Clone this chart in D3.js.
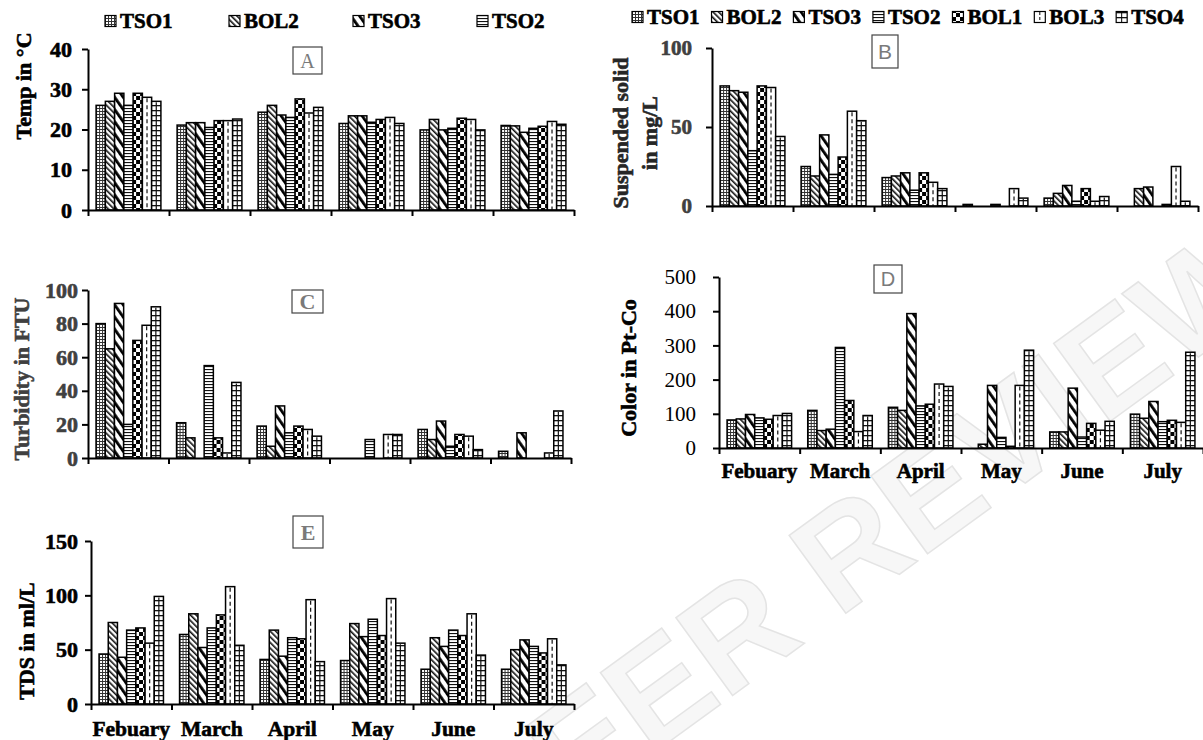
<!DOCTYPE html>
<html>
<head>
<meta charset="utf-8">
<script src="https://cdn.jsdelivr.net/npm/d3@7"></script>
<style>
body { margin: 0; background: #fff; }
svg { display: block; }
.serif { font-family: "Liberation Serif", "Times New Roman", serif; }
.sans { font-family: "Liberation Sans", Arial, sans-serif; }
</style>
</head>
<body>
<div id="chart"></div>
<script>
// categories
const months = ["Febuary", "March", "April", "May", "June", "July"];
const series = ["TSO1", "BOL2", "TSO3", "TSO2", "BOL1", "BOL3", "TSO4"];

// values per month, in series order
const tempValues = [
    [26, 27, 29, 26, 29, 28, 27],
    [21.1, 21.7, 21.7, 20.5, 22.2, 22.2, 22.6],
    [24.3, 26, 23.6, 23, 27.6, 24.1, 25.5],
    [21.5, 23.4, 23.4, 21.8, 22.5, 23, 21.5],
    [19.9, 22.5, 19.9, 20.3, 22.8, 22.5, 19.9],
    [21, 20.9, 19.3, 20.3, 20.8, 22, 21.3]
];
const solidValues = [
    [76, 73, 72, 35, 76, 75, 44],
    [25, 19, 45, 20, 31, 60, 54],
    [18, 19, 21, 10, 21, 15, 11],
    [1, 0, 0, 1, 0, 11, 5],
    [5, 8, 13, 3, 11, 3, 6],
    [0, 11, 12, 0, 1, 25, 3]
];
const turbidityValues = [
    [80, 65, 92, 20, 70, 79, 90],
    [21, 12, 0, 55, 12, 3, 45],
    [19, 7, 31, 15, 19, 17, 13],
    [0, 0, 0, 11, 0, 14, 14],
    [17, 11, 22, 7, 14, 13, 5],
    [4, 0, 15, 0, 0, 3, 28]
];
const colorValues = [
    [82, 85, 98, 88, 84, 95, 101],
    [110, 51, 55, 294, 139, 48, 95],
    [119, 110, 393, 123, 128, 187, 180],
    [0, 11, 183, 31, 5, 183, 286],
    [47, 47, 175, 32, 72, 52, 78],
    [99, 87, 136, 77, 81, 75, 280]
];
const tdsValues = [
    [46, 75, 43, 68, 70, 56, 99],
    [64, 83, 52, 70, 82, 108, 54],
    [41, 68, 44, 61, 60, 96, 39],
    [40, 74, 62, 78, 63, 97, 56],
    [32, 61, 53, 68, 63, 83, 45],
    [32, 50, 59, 53, 47, 60, 36]
];

// tick labels
const tempTicks = [0, 10, 20, 30, 40];
const solidTicks = [0, 50, 100];
const turbidityTicks = [0, 20, 40, 60, 80, 100];
const colorTicks = [0, 100, 200, 300, 400, 500];
const tdsTicks = [0, 50, 100, 150];

const svg = d3.select("#chart").append("svg")
    .attr("width", 1203)
    .attr("height", 740);

// faint watermark behind everything
svg.append("text")
    .attr("class", "sans")
    .attr("transform", "translate(870,550) rotate(-36)")
    .attr("text-anchor", "middle")
    .attr("dominant-baseline", "middle")
    .attr("font-size", 140)
    .attr("font-weight", "bold")
    .attr("fill", "#f7f7f7")
    .attr("stroke", "#e4e4e4")
    .attr("stroke-width", 1.5)
    .text("PEER REVIEW");

// fill patterns, one per series
const defs = svg.append("defs");

function makePattern(id, w, h, rotate) {
    const p = defs.append("pattern")
        .attr("id", id)
        .attr("patternUnits", "userSpaceOnUse")
        .attr("width", w)
        .attr("height", h);
    if (rotate) p.attr("patternTransform", `rotate(${rotate})`);
    p.append("rect").attr("width", w).attr("height", h).attr("fill", "#fff");
    return p;
}

let p = makePattern("pat-TSO1", 3, 3);
p.append("rect").attr("width", 3).attr("height", 1).attr("fill", "#333");
p.append("rect").attr("width", 1).attr("height", 3).attr("fill", "#333");

p = makePattern("pat-BOL2", 4, 4, -45);
p.append("rect").attr("width", 1.6).attr("height", 4).attr("fill", "#111");

p = makePattern("pat-TSO3", 7, 7, -35);
p.append("rect").attr("width", 2.8).attr("height", 7).attr("fill", "#000");

p = makePattern("pat-TSO2", 4, 3);
p.append("rect").attr("width", 4).attr("height", 1.1).attr("fill", "#111");

p = makePattern("pat-BOL1", 8, 8);
p.append("rect").attr("width", 4).attr("height", 4).attr("fill", "#000");
p.append("rect").attr("x", 4).attr("y", 4).attr("width", 4).attr("height", 4).attr("fill", "#000");

makePattern("pat-BOL3", 4, 4);

p = makePattern("pat-TSO4", 4, 5);
p.append("rect").attr("width", 4).attr("height", 1.3).attr("fill", "#111");

function drawPanel(cfg) {
    const g = svg.append("g").attr("transform", `translate(${cfg.left},0)`);

    const x0 = d3.scaleBand()
        .domain(months)
        .range([0, cfg.width])
        .paddingInner(0.2)
        .paddingOuter(0.1);
    const x1 = d3.scaleBand()
        .domain(series)
        .range([0, x0.bandwidth()]);
    const y = d3.scaleLinear()
        .domain(cfg.domain)
        .range([cfg.bottom, cfg.top]);

    // bars
    const groups = g.selectAll(".month")
        .data(cfg.values)
        .enter()
        .append("g")
        .attr("transform", (d, i) => `translate(${x0(months[i])},0)`);

    const bars = groups.selectAll("g.bar")
        .data(d => d.map((v, j) => ({ s: series[j], v: v })).filter(e => e.v > 0))
        .enter()
        .append("g")
        .attr("class", "bar");

    bars.append("rect")
        .attr("x", d => x1(d.s))
        .attr("y", d => y(d.v))
        .attr("width", x1.bandwidth())
        .attr("height", d => y(0) - y(d.v))
        .attr("fill", d => `url(#pat-${d.s})`)
        .attr("stroke", "#000")
        .attr("stroke-width", 1.5);

    // centre lines for BOL3 (dashed) and TSO4 (solid)
    bars.filter(d => d.s === "BOL3" || d.s === "TSO4")
        .append("line")
        .attr("x1", d => x1(d.s) + x1.bandwidth() / 2)
        .attr("x2", d => x1(d.s) + x1.bandwidth() / 2)
        .attr("y1", d => y(d.v) + 1)
        .attr("y2", y(0))
        .attr("stroke", "#111")
        .attr("stroke-width", 1.2)
        .attr("stroke-dasharray", d => d.s === "BOL3" ? "4,3" : null);

    // y axis
    const yAxis = g.append("g")
        .call(d3.axisLeft(y)
            .tickValues(cfg.ticks)
            .tickSize(6)
            .tickSizeOuter(0)
            .tickPadding(cfg.tickPad));
    yAxis.select(".domain").attr("stroke", "#000").attr("stroke-width", 2);
    yAxis.selectAll(".tick line").attr("stroke", "#000").attr("stroke-width", 2);
    yAxis.selectAll(".tick text")
        .attr("class", "serif")
        .attr("font-size", cfg.tickSize)
        .attr("font-weight", cfg.tickWeight)
        .attr("fill", cfg.tickColor)
        .attr("stroke", cfg.tickWeight === "bold" ? cfg.tickColor : null)
        .attr("stroke-width", 0.6);

    // x axis with ticks between categories
    const xb = d3.scaleLinear().domain([0, months.length]).range([0, cfg.width]);
    const xAxis = g.append("g")
        .attr("transform", `translate(0,${y(0)})`)
        .call(d3.axisBottom(xb)
            .tickValues(d3.range(0, months.length + 1))
            .tickSize(6)
            .tickSizeOuter(0)
            .tickFormat(""));
    xAxis.select(".domain").attr("stroke", "#000").attr("stroke-width", 2);
    xAxis.selectAll(".tick line").attr("stroke", "#000").attr("stroke-width", 2);

    if (cfg.monthY) {
        const mAxis = g.append("g")
            .attr("transform", `translate(0,${cfg.monthY})`)
            .call(d3.axisBottom(x0).tickSize(0).tickPadding(0));
        mAxis.select(".domain").remove();
        mAxis.selectAll(".tick text")
            .attr("class", "serif")
            .attr("dy", "0.35em")
            .attr("font-size", cfg.monthSize)
            .attr("font-weight", "bold")
            .attr("fill", "#000")
            .attr("stroke", "#000")
            .attr("stroke-width", 0.6);
    }

    // axis title
    cfg.title.forEach((t, i) => {
        svg.append("text")
            .attr("class", "serif")
            .attr("transform", `translate(${cfg.titleX + i * cfg.titleGap},${cfg.titleY}) rotate(-90)`)
            .attr("text-anchor", "middle")
            .attr("dominant-baseline", "middle")
            .attr("font-size", 22)
            .attr("font-weight", "bold")
            .attr("fill", cfg.titleColor)
            .attr("stroke", cfg.titleColor)
            .attr("stroke-width", 0.6)
            .text(t);
    });

    // panel letter box
    const b = cfg.box;
    svg.append("rect")
        .attr("x", b.x).attr("y", b.y)
        .attr("width", b.w).attr("height", b.h)
        .attr("fill", "#fff")
        .attr("stroke", "#444")
        .attr("stroke-width", 1.2);
    svg.append("text")
        .attr("class", b.sans ? "sans" : "serif")
        .attr("x", b.x + b.w / 2)
        .attr("y", b.y + b.h / 2)
        .attr("text-anchor", "middle")
        .attr("dominant-baseline", "central")
        .attr("font-size", b.size)
        .attr("font-weight", b.bold ? "bold" : "normal")
        .attr("fill", "#7a7a7a")
        .text(b.letter);
}

drawPanel({
    values: tempValues, ticks: tempTicks, domain: [0, 40],
    left: 88, width: 486, top: 49, bottom: 210,
    tickPad: 10, tickSize: 22, tickWeight: "bold", tickColor: "#000",
    title: ["Temp in \u00b0C"], titleX: 26, titleY: 86, titleGap: 0, titleColor: "#000",
    box: { x: 293, y: 47, w: 29, h: 27, letter: "A", size: 20, sans: false, bold: false }
});

drawPanel({
    values: solidValues, ticks: solidTicks, domain: [0, 100],
    left: 712, width: 486, top: 48, bottom: 206,
    tickPad: 14, tickSize: 21, tickWeight: "bold", tickColor: "#404040",
    title: ["Suspended solid", "in mg/L"], titleX: 623, titleY: 133, titleGap: 29, titleColor: "#262626",
    box: { x: 872, y: 35, w: 26, h: 33, letter: "B", size: 21, sans: true, bold: false }
});

drawPanel({
    values: turbidityValues, ticks: turbidityTicks, domain: [0, 100],
    left: 88, width: 483, top: 290, bottom: 458,
    tickPad: 4, tickSize: 22, tickWeight: "bold", tickColor: "#404040",
    title: ["Turbidity in FTU"], titleX: 24, titleY: 379, titleGap: 0, titleColor: "#404040",
    box: { x: 292, y: 290, w: 31, h: 23, letter: "C", size: 22, sans: false, bold: true }
});

drawPanel({
    values: colorValues, ticks: colorTicks, domain: [0, 500],
    left: 719, width: 484, top: 277, bottom: 448,
    tickPad: 17, tickSize: 21, tickWeight: "normal", tickColor: "#000",
    title: ["Color in Pt-Co"], titleX: 631, titleY: 368, titleGap: 0, titleColor: "#000",
    monthY: 471, monthSize: 21,
    box: { x: 874, y: 265, w: 28, h: 28, letter: "D", size: 20, sans: true, bold: false }
});

drawPanel({
    values: tdsValues, ticks: tdsTicks, domain: [0, 150],
    left: 91, width: 483, top: 541, bottom: 704,
    tickPad: 7, tickSize: 22, tickWeight: "bold", tickColor: "#000",
    title: ["TDS in ml/L"], titleX: 29, titleY: 641, titleGap: 0, titleColor: "#000",
    monthY: 728, monthSize: 21.5,
    box: { x: 293, y: 516, w: 30, h: 32, letter: "E", size: 22, sans: false, bold: true }
});

// legends
function drawLegend(items, x, y, spacing) {
    const lg = svg.append("g").attr("transform", `translate(${x},${y})`);
    let cx = 0;
    items.forEach((s, i) => {
        const ix = spacing ? i * spacing : cx;
        lg.append("rect")
            .attr("x", ix).attr("y", -5.5)
            .attr("width", 11).attr("height", 11)
            .attr("fill", `url(#pat-${s})`)
            .attr("stroke", "#000")
            .attr("stroke-width", 1.2);
        if (s === "BOL3" || s === "TSO4") {
            lg.append("line")
                .attr("x1", ix + 5.5).attr("x2", ix + 5.5)
                .attr("y1", -5).attr("y2", 5)
                .attr("stroke", "#000")
                .attr("stroke-dasharray", s === "BOL3" ? "3,2" : null);
        }
        const t = lg.append("text")
            .attr("class", "serif")
            .attr("x", ix + 15)
            .attr("dy", "0.35em")
            .attr("font-size", 21)
            .attr("font-weight", "bold")
            .attr("fill", "#000")
            .attr("stroke", "#000")
            .attr("stroke-width", 0.6)
            .text(s);
        cx = ix + 15 + t.node().getComputedTextLength() + 12;
    });
}

drawLegend(series.slice(0, 4), 105, 21, 124);
drawLegend(series, 632, 17, 0);
</script>
</body>
</html>
